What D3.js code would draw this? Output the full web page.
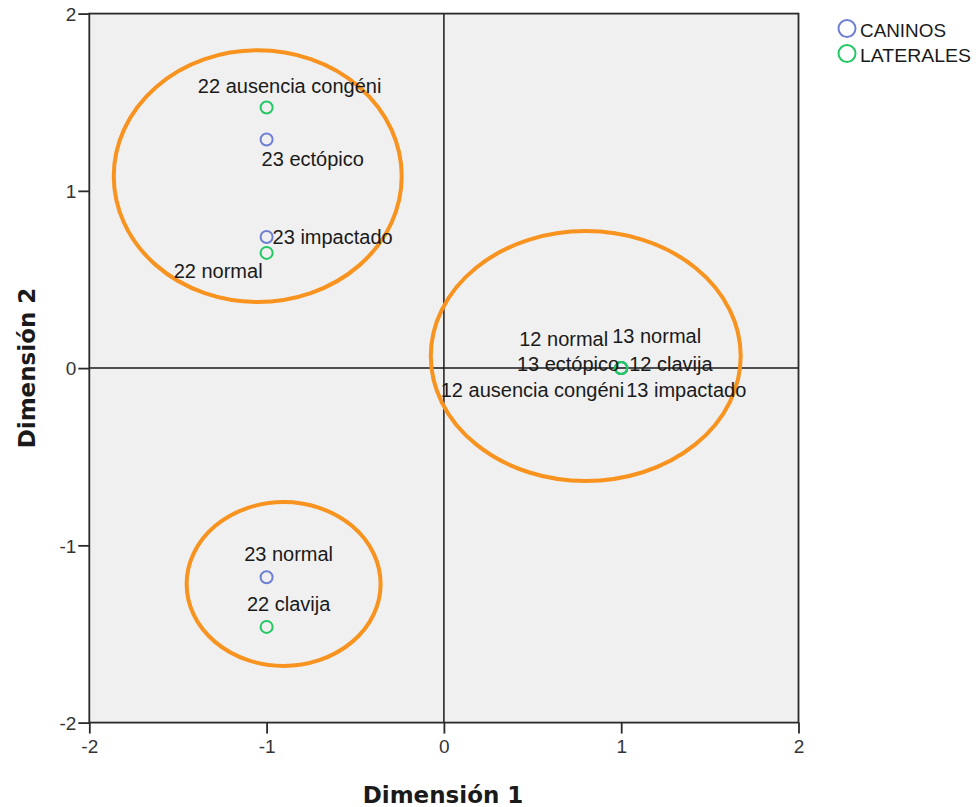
<!DOCTYPE html>
<html><head><meta charset="utf-8">
<script src="https://cdn.jsdelivr.net/npm/d3@7"></script>
<style>
html,body{margin:0;padding:0;background:#fff;}
svg{display:block;}
</style>
</head><body>
<svg id="chart" width="977" height="807"></svg>
<script>
// ---- data ----
const pointLabels = ["22 ausencia congéni","23 ectópico","23 impactado","22 normal","23 normal","22 clavija",
  "13 normal","13 ectópico","13 impactado","12 normal","12 clavija","12 ausencia congéni"];
const dim1 = [-1,-1,-1,-1,-1,-1, 1,1,1, 1,1,1];
const dim2 = [1.47,1.29,0.74,0.65,-1.18,-1.46, 0,0,0, 0,0,0];
const pointGroup = ["LATERALES","CANINOS","CANINOS","LATERALES","CANINOS","LATERALES",
  "CANINOS","CANINOS","CANINOS","LATERALES","LATERALES","LATERALES"];
const groups = ["CANINOS","LATERALES"];
const tickValues = [-2,-1,0,1,2];
const tickLabels = ["-2","-1","0","1","2"];
// highlighted groupings (centre and radii in dimension units)
const ellipseCx = [-1.05, 0.80, -0.904];
const ellipseCy = [1.083, 0.068, -1.218];
const ellipseRx = [0.812, 0.874, 0.547];
const ellipseRy = [0.71, 0.705, 0.462];

// ---- layout (label placement, pixels relative to point) ----
const labelPlacement = [
  {dx:23, dy:-15, a:"middle"}, {dx:-5, dy:27, a:"start"}, {dx:6, dy:7, a:"start"}, {dx:-4, dy:25, a:"end"},
  {dx:22, dy:-16, a:"middle"}, {dx:22, dy:-16, a:"middle"},
  {dx:-9, dy:-25, a:"start"}, {dx:-2, dy:3, a:"end"}, {dx:5, dy:29, a:"start"},
  {dx:-13, dy:-22, a:"end"}, {dx:8, dy:3, a:"start"}, {dx:3, dy:29, a:"end"}
];

const L=89.3, R=798.5, T=13.6, B=722.6;
const svg = d3.select("#chart");
const x = d3.scaleLinear().domain([-2,2]).range([L,R]);
const y = d3.scaleLinear().domain([-2,2]).range([B,T]);
const color = d3.scaleOrdinal().domain(groups).range(["#6f7fd3","#22c864"]);
const font = "'Liberation Sans', Arial, sans-serif";
const fmt = d => tickLabels[tickValues.indexOf(d)];

svg.append("rect").attr("x",L).attr("y",T).attr("width",R-L).attr("height",B-T)
  .attr("fill","#f0f0f0");

// reference lines
svg.append("line").attr("x1",x(0)).attr("x2",x(0)).attr("y1",T).attr("y2",B)
  .attr("stroke","#1a1a1a").attr("stroke-width",1.5);
svg.append("line").attr("x1",L).attr("x2",R).attr("y1",y(0)).attr("y2",y(0))
  .attr("stroke","#1a1a1a").attr("stroke-width",1.5);

// frame
svg.append("rect").attr("x",L).attr("y",T).attr("width",R-L).attr("height",B-T)
  .attr("fill","none").attr("stroke","#2a2a2a").attr("stroke-width",1.8);

// axes
const xAxis = svg.append("g").attr("transform",`translate(0,${B})`)
  .call(d3.axisBottom(x).tickValues(tickValues).tickFormat(fmt).tickSize(11).tickPadding(6));
const yAxis = svg.append("g").attr("transform",`translate(${L},0)`)
  .call(d3.axisLeft(y).tickValues(tickValues).tickFormat(fmt).tickSize(11).tickPadding(2));
[xAxis,yAxis].forEach(g=>{
  g.select(".domain").remove();
  g.selectAll(".tick line").attr("stroke","#2a2a2a").attr("stroke-width",1.8);
  g.selectAll(".tick text").attr("font-family",font).attr("font-size",19).attr("fill","#333");
});
yAxis.selectAll(".tick text").attr("dy","0.36em");

// ellipses
svg.append("g").selectAll("ellipse").data(ellipseCx).join("ellipse")
  .attr("cx",(d)=>x(d))
  .attr("cy",(d,i)=>y(ellipseCy[i]))
  .attr("rx",(d,i)=>x(ellipseRx[i])-x(0))
  .attr("ry",(d,i)=>y(0)-y(ellipseRy[i]))
  .attr("fill","none").attr("stroke","#f7931e").attr("stroke-width",4);

// points (caninos first, laterales on top)
const idx = d3.range(pointLabels.length).sort((a,b)=>groups.indexOf(pointGroup[a])-groups.indexOf(pointGroup[b]));
svg.append("g").selectAll("circle").data(idx).join("circle")
  .attr("cx",i=>x(dim1[i])).attr("cy",i=>y(dim2[i])).attr("r",6)
  .attr("fill","none").attr("stroke",i=>color(pointGroup[i])).attr("stroke-width",2);

svg.append("g").selectAll("text").data(d3.range(pointLabels.length)).join("text")
  .attr("x",i=>x(dim1[i])+labelPlacement[i].dx)
  .attr("y",i=>y(dim2[i])+labelPlacement[i].dy)
  .attr("text-anchor",i=>labelPlacement[i].a)
  .attr("font-family",font).attr("font-size",20).attr("fill","#1a1a1a")
  .text(i=>pointLabels[i]);

// axis titles
const titleFont = "'DejaVu Sans', Verdana, sans-serif";
svg.append("text").attr("x",443).attr("y",803).attr("text-anchor","middle")
  .attr("font-family",titleFont).attr("font-weight","bold").attr("font-size",23)
  .attr("fill","#1a1a1a").text("Dimensión 1");
svg.append("text").attr("transform","translate(35,368) rotate(-90)").attr("text-anchor","middle")
  .attr("font-family",titleFont).attr("font-weight","bold").attr("font-size",23)
  .attr("fill","#1a1a1a").text("Dimensión 2");

// legend
const lg = svg.append("g").selectAll("g").data(groups).join("g")
  .attr("transform",(d,i)=>`translate(847,${28.5+i*25})`);
lg.append("circle").attr("r",8.5).attr("fill","none").attr("stroke",d=>color(d)).attr("stroke-width",2);
lg.append("text").attr("x",13).attr("y",8).attr("font-family",font).attr("font-size",19)
  .attr("fill","#1a1a1a").attr("textLength",d=>d==="CANINOS"?86:111).attr("lengthAdjust","spacingAndGlyphs").text(d=>d);
</script>
</body></html>
